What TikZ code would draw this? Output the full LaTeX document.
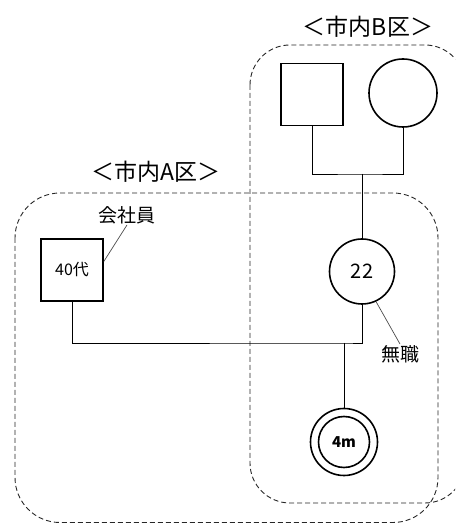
\documentclass[tikz,border=0pt]{standalone}
\usepackage{fontspec}
\setmainfont{Noto Sans CJK JP}
\usepackage{tikz}

\begin{document}
\begin{tikzpicture}[%
      x=10pt, y=10pt,
      male/.style={draw, line width=1.6pt, minimum size=62pt, inner sep=0pt},
      female/.style={draw, circle, line width=1.6pt, inner sep=0pt},
      kinship/.style={line width=0.9pt},
      leader/.style={color=black!70, line width=0.7pt},
      district/.style={color=black!85, line width=0.9pt, dash pattern=on 5pt off 3pt},
      areaname/.style={inner sep=1pt, font=\fontsize{23}{23}\selectfont},
      job/.style={inner sep=1pt, font=\fontsize{19}{19}\selectfont},
      ]
      \useasboundingbox (0,0) rectangle (45.5,52.4);
      \clip (0,0) rectangle (45.5,52.4);

      \draw [district, rounded corners=45pt] (1.5,33.1) rectangle (43.8,0.15);
      \draw [district, rounded corners=40pt] (25.0,47.9) rectangle (46.5,2.1);

      \node [areaname] (btitle) at (36.8,49.7) {＜市内B区＞};
      \node [areaname] (atitle) at (15.6,35.2) {＜市内A区＞};

      \node [male] (bfather) at (31.2,42.95) {};
      \node [female, minimum size=68pt] (bmother) at (40.3,43.1) {};
      \node [female, minimum size=65pt, font=\fontsize{20}{20}\selectfont] (mother) at (36.2,25.25) {22};
      \node [male, font=\fontsize{16}{16}\selectfont] (father) at (7.2,25.4) {40代};
      \node [female, minimum size=67pt] (baby) at (34.4,8.2) {};
      \node [female, minimum size=51pt, font=\bfseries\fontsize{15}{15}\selectfont] (babyin) at (baby) {4m};

      \node [job] (fjob) at (12.7,30.9) {会社員};
      \node [job] (mjob) at (40.0,17.0) {無職};

      \coordinate (bmarry) at (36.2,35.0);
      \coordinate (amarry) at (34.4,18.1);

      \draw [kinship] (bfather.south) |- (bmarry) -| (bmother.south);
      \draw [kinship] (bmarry) -- (mother.north);
      \draw [kinship] (father.south) |- (amarry) -| (mother.south);
      \draw [kinship] (amarry) -- (baby.north);

      \draw [leader] (fjob.south) -- (father.15);
      \draw [leader] (mother.-65) -- (mjob.north);
      \end{tikzpicture}
\end{document}
